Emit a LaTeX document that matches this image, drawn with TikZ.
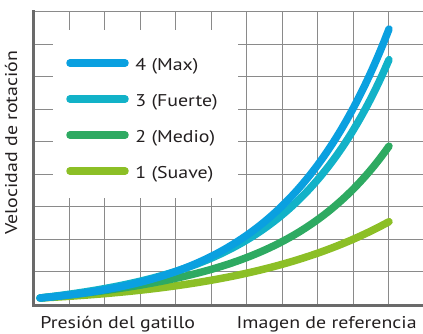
\documentclass[tikz,border=0pt]{standalone}
\usepackage{fontspec}
\setmainfont[FakeStretch=1.17]{PT Sans}
\usepackage{xcolor}
\usetikzlibrary{positioning,calc}
\definecolor{maxblue}{HTML}{0AA0E0}
\definecolor{fuertecyan}{HTML}{12B2C8}
\definecolor{mediogreen}{HTML}{2EAA62}
\definecolor{suavelime}{HTML}{8CBF26}
\definecolor{gridgray}{HTML}{8A8A8A}
\definecolor{axisgray}{HTML}{6A6A6A}
\definecolor{txt}{HTML}{231F20}

\begin{document}
\begin{tikzpicture}[x=1pt, y=-1pt, thick,
   gridline/.style={draw=gridgray, line width=1.2pt},
   axisline/.style={draw=axisgray, line width=3pt},
   curve/.style={line width=7.5pt, line cap=round},
   lbl/.style={font=\fontsize{17}{19}\selectfont, text=txt, inner sep=0pt}]
   \useasboundingbox (0,0) rectangle (423,334);

   % Grid
   \foreach \i in {1,...,10}
      \draw[gridline] (33.7+35.5*\i,11.7) -- (33.7+35.5*\i,305);
   \foreach \j in {0,...,8}
      \draw[gridline] (33.7,11.7+32.5*\j) -- (423,11.7+32.5*\j);

   % Axes
   \coordinate (origin) at (33.7,305);
   \coordinate (ytop) at (33.7,10.5);
   \coordinate (xend) at (423,305);
   \draw[axisline] (ytop) -- (origin) -- (xend);

   % Legend box
   \fill[white] (53,30) rectangle (238,198);

   % Curves (t = x-40, height above start)
   \draw[curve, suavelime] plot[domain=0:349, samples=60, smooth]
      ({40+\x}, {298-(-0.0176*\x+11.6*(exp(0.006*\x)-1))});
   \draw[curve, mediogreen] plot[domain=0:349, samples=60, smooth]
      ({40+\x}, {298-(0.0569*\x+4.161*(exp(0.01*\x)-1))});
   \draw[curve, fuertecyan] plot[domain=0:349, samples=60, smooth]
      ({40+\x}, {298-(0.0475*\x+6.99*(exp(0.01*\x)-1))});
   \draw[curve, maxblue] plot[domain=0:349, samples=60, smooth]
      ({40+\x}, {298-(-0.0265*\x+12.56*(exp(0.009*\x)-1))});

   % Legend
   \draw[curve, maxblue] (70,63) -- (125,63);
   \node[lbl, anchor=base west] (lmax) at (135,70.7) {4 (Max)};
   \draw[curve, fuertecyan] (70,99) -- (125,99);
   \node[lbl, anchor=base west] (lfuerte) at (135,106.7) {3 (Fuerte)};
   \draw[curve, mediogreen] (70,135) -- (125,135);
   \node[lbl, anchor=base west] (lmedio) at (135,142.7) {2 (Medio)};
   \draw[curve, suavelime] (70,171) -- (125,171);
   \node[lbl, anchor=base west] (lsuave) at (135,178.5) {1 (Suave)};

   % Axis labels
   \node[lbl, anchor=base west] (xleft) at (40,328.3) {Presión del gatillo};
   \node[lbl, anchor=base east] (xright) at (417,328.3) {Imagen de referencia};
   \node[lbl, anchor=base, rotate=90] (ylabel) at (17,142.5) {Velocidad de rotación};
\end{tikzpicture}
\end{document}
